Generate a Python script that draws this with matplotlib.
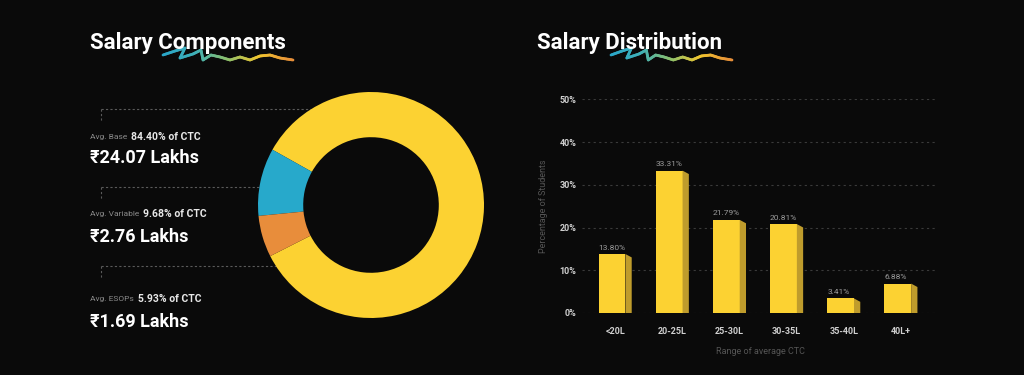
import numpy as np
import matplotlib.pyplot as plt
from matplotlib.collections import LineCollection
from matplotlib.colors import LinearSegmentedColormap

plt.rcParams['font.family'] = ['Roboto', 'Lato', 'DejaVu Sans']

BG = '#0a0a0a'
YELLOW = '#fcd232'
SIDE = '#bf9c2c'

# salary components (donut)
comp_names = ['Base', 'Variable', 'ESOPs']
comp_share = [84.40, 9.68, 5.93]
comp_amount = [24.07, 2.76, 1.69]
comp_colors = ['#fcd232', '#27a9cb', '#e88d3b']

# salary distribution (bars)
ctc_ranges = ['<20L', '20-25L', '25-30L', '30-35L', '35-40L', '40L+']
students_pct = [13.80, 33.31, 21.79, 20.81, 3.41, 6.88]
y_ticks = [0, 10, 20, 30, 40, 50]

W, H = 1024, 375
fig = plt.figure(figsize=(W / 100, H / 100), dpi=100, facecolor=BG)

# full-figure canvas in pixel coords for titles / leaders
canvas = fig.add_axes([0, 0, 1, 1])
canvas.set_xlim(0, W)
canvas.set_ylim(H, 0)
canvas.axis('off')

# decorative squiggle under titles
squiggle = [(0, 11), (12, 7), (22, 4), (17, 14), (30, 10), (38, 6), (40, 16),
            (48, 11), (57, 13), (67, 16), (77, 13), (87, 16), (97, 12),
            (107, 11), (117, 14), (130, 16)]
squig_cmap = LinearSegmentedColormap.from_list(
    'squig', ['#2aa7c9', '#3fb0b8', '#8cc06c', '#f2c62f', '#e8903a'])


def draw_squiggle(x0, y0, width):
    pts = np.array(squiggle, float)
    pts[:, 0] *= width / pts[:, 0].max()
    dense = []
    for a, b in zip(pts[:-1], pts[1:]):
        for t in np.linspace(0, 1, 8, endpoint=False):
            dense.append(a + (b - a) * t)
    dense.append(pts[-1])
    dense = np.array(dense)
    dense[:, 0] += x0
    dense[:, 1] += y0
    segs = np.stack([dense[:-1], dense[1:]], axis=1)
    lc = LineCollection(segs, cmap=squig_cmap, linewidths=2.0, capstyle='round')
    lc.set_array((dense[:-1, 0] - x0) / width)
    canvas.add_collection(lc)


canvas.text(90, 43, 'Salary Components', color='white', fontsize=16,
            fontweight='bold', va='center', ha='left', zorder=3)
draw_squiggle(163, 44, 130)
canvas.text(537, 43, 'Salary Distribution', color='white', fontsize=16,
            fontweight='bold', va='center', ha='left', zorder=3)
draw_squiggle(611, 44, 121)

# donut
cx, cy, r_px = 371, 205, 113
donut = fig.add_axes([(cx - r_px) / W, (H - cy - r_px) / H, 2 * r_px / W, 2 * r_px / H])
donut.pie(comp_share, colors=comp_colors, startangle=206.9, counterclock=True,
          radius=1, wedgeprops=dict(width=0.4, edgecolor='none'))
donut.set_xlim(-1, 1)
donut.set_ylim(-1, 1)
donut.axis('off')

# leader lines + labels
leader_y = [109, 187, 266]
leader_end = [335, 276, 314]
label_y = [137, 214, 299]
amount_y = [158, 237, 322]

for name, share, amt, ly, le, lab_y, am_y in zip(comp_names, comp_share, comp_amount,
                                                 leader_y, leader_end, label_y, amount_y):
    canvas.plot([101, le], [ly, ly], color='#5a5a5a', lw=0.8, ls=(0, (2, 2)), zorder=5)
    canvas.plot([101, 101], [ly, ly + 12], color='#5a5a5a', lw=0.8, ls=(0, (2, 2)))
    canvas.plot(le, ly, 'o', ms=1.6, color='#c8c8c8', zorder=6)
    t1 = canvas.text(90, lab_y, f'Avg. {name}', color='#8a8a8a', fontsize=6,
                     va='center', ha='left')
    canvas.annotate(f'{share:.2f}% of CTC', xy=(1, 0.5), xycoords=t1,
                    xytext=(3, 0), textcoords='offset points', va='center',
                    ha='left', fontsize=7.5, fontweight='bold', color='#e8e8e8')
    canvas.text(90, am_y, f'\u20b9{amt:.2f} Lakhs', fontsize=13, fontweight='bold',
                color='white', va='center', ha='left')

# bar chart
bx = fig.add_axes([582 / W, 1 - 313 / H, (938 - 582) / W, (313 - 99.3) / H])
bx.set_facecolor('none')
x = np.arange(len(ctc_ranges))
front_w, side_w = 0.47, 0.11
left = x - (front_w + side_w) / 2
bx.bar(left, students_pct, width=front_w, align='edge', color=YELLOW, lw=0, zorder=3)
for l, v in zip(left, students_pct):
    xs = [l + front_w, l + front_w + side_w, l + front_w + side_w, l + front_w]
    ys = [v, v - 0.8, 0, 0]
    bx.fill(xs, ys, color=SIDE, lw=0, zorder=3)
    bx.text(l, v + 0.8, f'{v:.2f}%', color='#9c9c9c', fontsize=6,
            ha='left', va='bottom')

bx.set_xlim(-0.58, 5.65)
bx.set_ylim(0, 50)
bx.set_xticks(x)
bx.set_xticklabels(ctc_ranges)
bx.set_yticks(y_ticks)
bx.set_yticklabels([f'{t}%' for t in y_ticks])
bx.tick_params(axis='both', length=0, colors='#d0d0d0', labelsize=6.5)
bx.tick_params(axis='x', pad=10)
bx.tick_params(axis='y', pad=4)
for lab in bx.get_xticklabels() + bx.get_yticklabels():
    lab.set_fontweight('bold')
bx.yaxis.grid(True, color='#3a3a3a', ls=(0, (2, 3)), lw=0.8)
bx.set_axisbelow(True)
for s in bx.spines.values():
    s.set_visible(False)
bx.set_xlabel('Range of average CTC', color='#555555', fontsize=6.5, labelpad=8)
bx.set_ylabel('Percentage of Students', color='#555555', fontsize=6.5, labelpad=8)

fig.savefig('out.png', dpi=100, facecolor=BG)
